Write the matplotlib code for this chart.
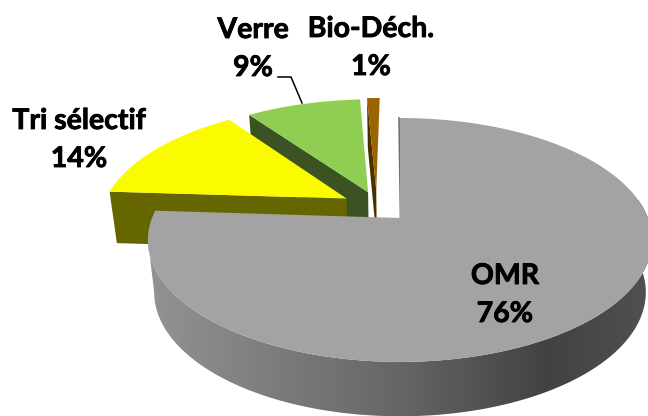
import numpy as np
import matplotlib
matplotlib.use("Agg")
import matplotlib.pyplot as plt
import matplotlib.patheffects as pe
from matplotlib.colors import LinearSegmentedColormap
from matplotlib.patches import Polygon

labels = ["OMR", "Tri sélectif", "Verre", "Bio-Déch."]
values = [76, 14, 9, 1]

top_colors = ["#a3a3a3", "#fbfb00", "#8fce52", "#9a6400"]
side_colors = ["#6a6a6a", "#666600", "#3b5323", "#4a2f00"]
# how far each slice is pulled out, in disc units
explode = [(0.0, 0.0), (-0.222, 0.17), (-0.134, 0.228), (-0.10, 0.245)]
label_pos = [(505, 276, 314), (79, 121, 159), (253, 30, 68), (371, 29, 67)]

CX, CY = 400.0, 218.0
RX, RY = 248.0, 118.0
K = 0.18


def project(x, y):
    w = 1 + K * y
    return CX + RX * x / w, CY - RY * y / w


def extrude(px, py):
    # lower face of the pie, slightly narrower than the top one
    return CX + 0.975 * (px - CX), py + 51.5 + 0.017 * (py - 193)


def arc(t0, t1, ex=0.0, ey=0.0, n=200):
    t = np.radians(np.linspace(t0, t1, n))
    return project(np.sin(t) + ex, np.cos(t) + ey)


fig = plt.figure(figsize=(6.48, 4.16), dpi=100)
ax = fig.add_axes([0, 0, 1, 1])
ax.set_xlim(0, 648)
ax.set_ylim(416, 0)
ax.axis("off")

edges = np.concatenate([[0], np.cumsum(values)]) / sum(values) * 360

# back to front: small slices first, the big one last
for i in range(len(values) - 1, 0, -1):
    t0, t1 = edges[i], edges[i + 1]
    ex, ey = explode[i]
    ax_, ay_ = project(ex, ey)
    x0, y0 = arc(t0, t0, ex, ey, n=1)
    bx0, by0 = extrude(x0[0], y0[0])
    bx1, by1 = extrude(ax_, ay_)
    ax.add_patch(Polygon([(x0[0], y0[0]), (ax_, ay_), (bx1, by1), (bx0, by0)],
                         facecolor=side_colors[i], edgecolor="none", zorder=2 + 3 - i))
    xs, ys = arc(t0, t1, ex, ey)
    ax.add_patch(Polygon(np.column_stack([np.r_[ax_, xs], np.r_[ay_, ys]]),
                         facecolor=top_colors[i], edgecolor="none", zorder=2.5 + 3 - i))

# rim of the big slice, shaded left to right (stops at the widest point on the left)
xt, yt = arc(60, 259.6)
xb, yb = extrude(xt, yt)
rim = Polygon(np.column_stack([np.r_[xt, xb[::-1]], np.r_[yt, yb[::-1]]]),
              facecolor="none", edgecolor="none", transform=ax.transData)
ax.add_patch(rim)
cmap = LinearSegmentedColormap.from_list(
    "rim", [(0, "#939393"), (0.5, "#666666"), (0.8, "#424242"), (1, "#505050")])
im = ax.imshow(np.linspace(0, 1, 256)[None, :], cmap=cmap, extent=(148, 648, 416, 200),
               aspect="auto", zorder=6)
im.set_clip_path(rim)
ax.set_xlim(0, 648)
ax.set_ylim(416, 0)

# inner wall of the big slice
ax.plot([CX - 1, CX + 0.5], [CY - 100, CY], color="#707070", lw=1.2, zorder=6.5)

xs, ys = arc(edges[0], edges[1], n=400)
ax.add_patch(Polygon(np.column_stack([np.r_[CX, xs], np.r_[CY, ys]]),
                     facecolor=top_colors[0], edgecolor="none", zorder=7))

# leader line for Verre
ax.plot([278, 291, 302], [77, 77, 103], color="black", lw=1.1, zorder=8)

# a thin stroke brings Lato Bold closer to the heavier original
heavy = [pe.withStroke(linewidth=0.6, foreground="black")]
for name, val, (x, y1, y2) in zip(labels, values, label_pos):
    ax.text(x, y1, name, ha="center", va="center", family="Lato", weight="bold",
            fontsize=20.5, color="black", zorder=9, path_effects=heavy)
    ax.text(x, y2, f"{val}%", ha="center", va="center", family="Lato", weight="bold",
            fontsize=20.5, color="black", zorder=9, path_effects=heavy)

fig.savefig("out.png", dpi=100)
